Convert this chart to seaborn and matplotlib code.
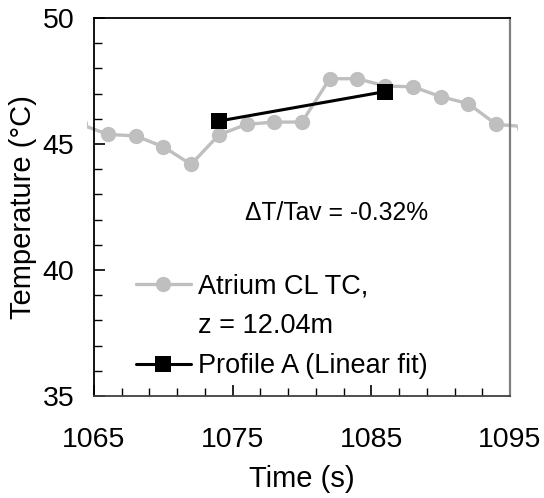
import matplotlib
matplotlib.use("Agg")
import matplotlib.pyplot as plt
from matplotlib.lines import Line2D
from matplotlib.patches import Rectangle
import seaborn as sns
import pandas as pd
import numpy as np

# Data
tc_time = [1064, 1066, 1068, 1070, 1072, 1074, 1076, 1078, 1080, 1082, 1084, 1086, 1088, 1090, 1092, 1094, 1096]
tc_temp = [45.79, 45.38, 45.32, 44.89, 44.19, 45.36, 45.78, 45.87, 45.87, 47.59, 47.59, 47.30, 47.27, 46.88, 46.60, 45.78, 45.69]
prof_time = [1074, 1086]
prof_temp = [45.91, 47.08]
tc_label_lines = ["Atrium CL TC,", "z = 12.04m"]
prof_label = "Profile A (Linear fit)"
annot = "ΔT/Tav = -0.32%"
x_ticks = [1065, 1075, 1085, 1095]
y_ticks = [35, 40, 45, 50]

sns.set_theme(style="white")
plt.rcParams["font.family"] = ["Liberation Sans", "DejaVu Sans"]
plt.rcParams["text.color"] = "black"
plt.rcParams["axes.labelcolor"] = "black"

fig = plt.figure(figsize=(5.44, 4.98), dpi=100)
ax = fig.add_axes([0.1728, 0.2048, 0.9375 - 0.1728, 0.9639 - 0.2048])

df_tc = pd.DataFrame({"t": tc_time, "T": tc_temp})
df_pr = pd.DataFrame({"t": prof_time, "T": prof_temp})

sns.lineplot(data=df_tc, x="t", y="T", ax=ax, color="#bfbfbf", lw=2.4,
             marker="o", markersize=11, markeredgewidth=0, legend=False)
sns.lineplot(data=df_pr, x="t", y="T", ax=ax, color="black", lw=2.2,
             marker="s", markersize=11, markeredgewidth=0, legend=False)

ax.set_xlim(1065, 1095)
ax.set_ylim(35, 50)

# clip the grey line slightly beyond the axes, like the source
clip_rect = Rectangle((-0.018, 0), 1.036, 1, transform=ax.transAxes,
                      facecolor="none", edgecolor="none")
ax.lines[0].set_clip_path(clip_rect)

ax.set_xticks(x_ticks)
ax.set_yticks(y_ticks)
ax.set_xticks(np.arange(1067, 1095, 2), minor=True)
ax.set_yticks(np.arange(36, 50, 1), minor=True)
ax.tick_params(axis="both", which="both", direction="in", colors="black",
               labelsize=20.5, bottom=True, left=True, top=False, right=False)
ax.tick_params(axis="both", which="major", length=8, width=1.2)
ax.tick_params(axis="both", which="minor", length=5.5, width=1.0)
ax.tick_params(axis="x", which="major", pad=22)
ax.tick_params(axis="y", which="major", pad=14)

for s in ["left", "top"]:
    ax.spines[s].set_color("black")
    ax.spines[s].set_linewidth(1.3)
ax.spines["right"].set_color("#808080")
ax.spines["right"].set_linewidth(1.6)
ax.spines["bottom"].set_color("#404040")
ax.spines["bottom"].set_linewidth(1.3)

ax.set_xlabel("Time (s)", fontsize=21, labelpad=9)
ax.set_ylabel("Temperature (°C)", fontsize=21, labelpad=4)

ax.text(0.584, 0.484, annot, transform=ax.transAxes, fontsize=17.7,
        ha="center", va="center")

h_tc = Line2D([], [], color="#bfbfbf", lw=2.4, marker="o", markersize=11, markeredgewidth=0)
h_blank = Line2D([], [], linestyle="none")
h_pr = Line2D([], [], color="black", lw=2.2, marker="s", markersize=11, markeredgewidth=0)
leg = ax.legend([h_tc, h_blank, h_pr], [tc_label_lines[0], tc_label_lines[1], prof_label],
                loc="lower left", bbox_to_anchor=(0.1, 0.045), frameon=False,
                fontsize=19.5, handlelength=2.05, handletextpad=0.25, labelspacing=0.5,
                borderaxespad=0, borderpad=0)

fig.savefig("out.png", dpi=100)
